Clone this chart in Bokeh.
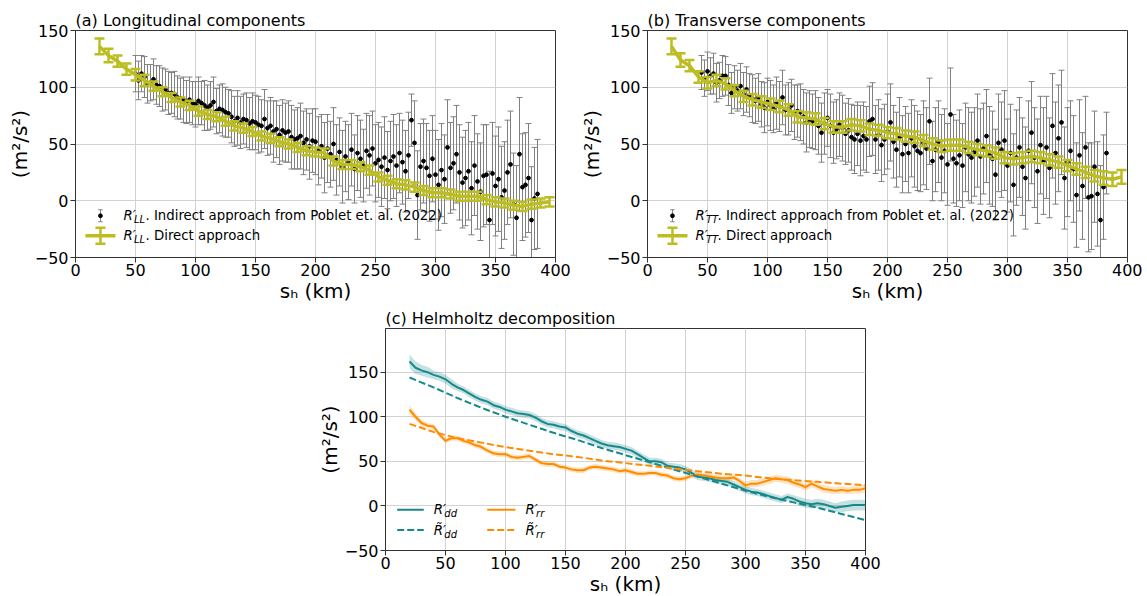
from bokeh.plotting import figure
from bokeh.models import (ColumnDataSource, Whisker, TeeHead, Label, Range1d,
                          FixedTicker, CustomJSTickFormatter, Spacer)
from bokeh.layouts import column, row
from bokeh.embed import file_html
from bokeh.resources import INLINE

# ---------------- data ----------------
# direct approach (olive), panels (a) and (b)
direct_x = [20 + 7.5 * k for k in range(51)]
direct_LL = [136, 128, 123, 116, 111, 106, 101, 96, 91, 87,
             84, 79, 76, 74, 70, 66, 64, 61, 57, 55,
             52, 50, 47, 44, 43, 42, 35, 32, 32, 30,
             27, 21, 18, 15, 14, 12, 9, 7, 7, 6,
             4, 4, 4, 1, -1, -2, -4, -5, -3, -2,
             -1]
direct_LL_err = [7, 6, 5, 5, 5, 5, 4, 4, 4, 4,
                 4, 4, 4, 4, 4, 4, 4, 4, 4, 4,
                 4, 4, 4, 4, 4, 4, 4, 4, 4, 4,
                 4, 4, 4, 4, 4, 4, 4, 4, 4, 4,
                 4, 4, 4, 4, 4, 4, 4, 4, 4, 4,
                 4]
direct_TT = [136, 124, 119, 109, 104, 106, 103, 97, 92, 89,
             87, 85, 83, 80, 74, 73, 72, 68, 65, 65,
             67, 66, 63, 62, 60, 59, 57, 56, 53, 50,
             48, 49, 49, 47, 45, 44, 42, 38, 37, 38,
             39, 38, 36, 34, 31, 28, 25, 22, 20, 19,
             21]
direct_TT_err = [7, 6, 5, 5, 5, 5, 5, 5, 5, 5,
                 5, 5, 5, 5, 5, 5, 5, 5, 5, 5,
                 5, 5, 5, 5, 5, 5, 5, 5, 5, 5,
                 5, 5, 5, 5, 5, 5, 5, 5, 5, 5,
                 5, 5, 5, 5, 5, 5, 5, 5, 6, 6,
                 6]

# indirect approach (black points with grey error bars)
indir_LL_x = [50 + 2.5 * k for k in range(135)]
indir_LL = [112, 106, 112, 109, 103, 104, 107, 102, 101, 98,
            98, 95, 95, 94, 91, 90, 89, 87, 89, 86,
            85, 88, 86, 84, 82, 84, 87, 79, 81, 80,
            78, 77, 74, 70, 73, 69, 72, 71, 68, 70,
            69, 67, 66, 72, 64, 66, 61, 63, 58, 62,
            60, 61, 56, 54, 55, 57, 51, 54, 48, 53,
            52, 44, 48, 38, 46, 41, 50, 36, 43, 30,
            39, 34, 45, 28, 42, 37, 31, 44, 40, 46,
            33, 36, 30, 38, 27, 35, 39, 31, 42, 34,
            26, 40, 71, 51, 5, 30, 35, 29, 22, 37,
            23, 14, 27, 19, 47, 29, 33, 41, 25, 16,
            20, 26, 11, 31, 17, 8, 22, 23, -17, 24,
            13, 19, 3, 9, 25, 32, -3, -15, 41, 12,
            14, 20, -17, 2, 6]
indir_LL_err = [16, 17, 16, 18, 17, 16, 18, 17, 18, 19,
                18, 19, 18, 20, 19, 18, 20, 19, 20, 19,
                20, 21, 19, 22, 20, 21, 22, 20, 21, 23,
                22, 21, 23, 22, 24, 23, 22, 24, 23, 25,
                24, 25, 23, 26, 24, 25, 27, 25, 26, 27,
                26, 27, 28, 26, 27, 29, 28, 27, 29, 28,
                29, 30, 28, 31, 30, 29, 32, 31, 30, 32,
                31, 33, 32, 30, 33, 34, 32, 33, 35, 33,
                34, 33, 35, 36, 34, 35, 37, 36, 35, 37,
                36, 38, 23, 37, 39, 38, 37, 39, 40, 38,
                39, 40, 41, 39, 42, 40, 41, 43, 42, 40,
                42, 43, 41, 44, 42, 43, 45, 44, 43, 45,
                44, 46, 45, 43, 46, 47, 45, 46, 50, 47,
                46, 48, 47, 45, 48]

indir_TT_x = [45 + 2.5 * k for k in range(136)]
indir_TT = [113, 108, 114, 110, 112, 104, 106, 110, 110, 102,
            95, 100, 97, 101, 94, 98, 93, 90, 88, 91,
            85, 82, 87, 84, 81, 86, 83, 91, 80, 81,
            84, 78, 79, 78, 74, 69, 72, 70, 71, 66,
            60, 68, 73, 66, 60, 63, 67, 64, 59, 62,
            56, 54, 59, 53, 57, 54, 70, 72, 54, 58,
            49, 54, 61, 69, 52, 45, 56, 41, 50, 42,
            55, 48, 44, 42, 51, 46, 70, 35, 45, 52,
            38, 44, 32, 76, 37, 33, 40, 31, 47, 41,
            38, 43, 53, 39, 46, 57, 40, 37, 23, 51,
            45, 53, 31, 42, 14, 38, 47, 30, 20, 44,
            60, 38, 26, 49, 35, 47, 29, 66, 42, 55,
            69, 20, 34, 44, 28, 5, 40, 13, 47, 3,
            4, 30, 6, -17, 12, 42]
indir_TT_err = [15, 16, 17, 16, 18, 17, 16, 18, 17, 18,
                18, 19, 18, 20, 19, 20, 19, 21, 20, 21,
                20, 22, 21, 22, 21, 23, 22, 24, 22, 23,
                23, 24, 23, 25, 24, 26, 25, 24, 26, 25,
                26, 27, 25, 28, 27, 26, 28, 29, 27, 28,
                29, 30, 28, 31, 30, 29, 31, 32, 30, 31,
                32, 31, 33, 34, 32, 33, 35, 34, 33, 35,
                34, 36, 35, 34, 37, 36, 38, 35, 37, 36,
                38, 37, 36, 41, 39, 38, 40, 37, 39, 41,
                40, 39, 41, 42, 40, 41, 43, 42, 40, 43,
                42, 44, 41, 43, 45, 42, 44, 43, 45, 44,
                45, 44, 46, 43, 47, 45, 44, 46, 45, 47,
                46, 45, 48, 44, 47, 46, 49, 47, 45, 48,
                47, 49, 46, 48, 46, 36]

# Helmholtz decomposition, panel (c)
helm_x = list(range(20, 401, 5))
R_dd = [162, 155, 152, 150, 147, 145, 142, 137, 133, 130,
        126, 122, 119, 117, 113, 111, 108, 106, 104, 103,
        102, 99, 95, 92, 91, 89, 88, 84, 81, 79,
        76, 73, 70, 68, 67, 66, 64, 62, 58, 54,
        50, 50, 49, 45, 44, 43, 41, 37, 33, 32,
        31, 29, 28, 27, 24, 21, 18, 16, 15, 13,
        11, 9, 7, 10, 8, 5, 3, 2, 3, 2,
        0, -2, -1, 0, 1, 1, 1]
R_dd_band = [8, 7, 6, 6, 5, 5, 5, 5, 4, 4,
             4, 4, 4, 4, 4, 4, 4, 4, 4, 4,
             4, 4, 4, 4, 4, 4, 4, 4, 4, 4,
             4, 4, 4, 4, 4, 4, 4, 4, 4, 4,
             4, 4, 4, 4, 4, 4, 4, 4, 4, 4,
             4, 4, 4, 4, 4, 4, 4, 4, 4, 4,
             4, 4, 4, 4, 4, 5, 5, 5, 5, 5,
             5, 5, 6, 6, 6, 6, 6]
R_rr = [108, 100, 93, 90, 89, 80, 73, 76, 76, 73,
        71, 68, 66, 62, 59, 58, 58, 55, 54, 55,
        56, 52, 48, 47, 47, 44, 43, 41, 40, 40,
        43, 44, 43, 42, 41, 39, 40, 38, 36, 36,
        37, 37, 35, 34, 31, 30, 31, 34, 35, 34,
        33, 32, 31, 31, 32, 28, 23, 25, 25, 27,
        29, 31, 30, 29, 26, 24, 21, 25, 22, 19,
        18, 17, 18, 17, 18, 18, 20]
R_rr_band = [5, 4, 4, 3, 3, 3, 3, 3, 3, 3,
             3, 3, 3, 3, 3, 3, 3, 3, 3, 3,
             3, 3, 3, 3, 3, 3, 3, 3, 3, 3,
             3, 3, 3, 3, 3, 3, 3, 3, 3, 3,
             3, 3, 3, 3, 3, 3, 3, 3, 3, 3,
             3, 3, 3, 3, 3, 3, 4, 4, 4, 4,
             4, 4, 4, 4, 4, 4, 4, 4, 4, 4,
             4, 4, 4, 4, 4, 4, 5]
fit_x = list(range(20, 401, 20))
R_dd_fit = [144, 133, 121, 110, 100, 91, 82, 74, 65, 57,
            49, 41, 33, 25, 17, 10, 4, -2, -9, -16]
R_rr_fit = [92, 83, 76, 71, 66, 62, 58, 55, 51, 48,
            45, 42, 39, 36, 34, 31, 29, 27, 25, 23]

x_ticks = [0, 50, 100, 150, 200, 250, 300, 350, 400]
y_ticks = [-50, 0, 50, 100, 150]

# ---------------- styling ----------------
FONT = "DejaVu Sans"
OLIVE = "#bcbd22"
TEAL = "#17898b"
ORANGE = "#ff8c00"
GREY = "#808080"
AXIS = "#333333"
GRID = "#d2d2d2"

fmt = CustomJSTickFormatter(code="return tick < 0 ? '\u2212' + Math.abs(tick) : String(tick);")


def make_fig(title, left, right, top, bottom, fh, y_end):
    p = figure(title=title, frame_width=480, frame_height=fh,
               min_border_left=left, min_border_right=right,
               min_border_top=top, min_border_bottom=bottom,
               x_range=Range1d(0, 400), y_range=Range1d(-50, y_end),
               output_backend="svg", toolbar_location=None,
               background_fill_color="white", border_fill_color="white")
    p.title.align = "left"
    p.title.text_font = FONT
    p.title.text_font_size = "16px"
    p.title.text_font_style = "normal"
    p.title.text_color = "black"
    p.title.standoff = 2
    p.title.offset = 0
    p.outline_line_color = AXIS
    p.outline_line_width = 1
    p.xaxis.ticker = FixedTicker(ticks=x_ticks)
    p.yaxis.ticker = FixedTicker(ticks=y_ticks)
    p.xgrid.ticker = FixedTicker(ticks=x_ticks)
    p.ygrid.ticker = FixedTicker(ticks=y_ticks)
    p.grid.grid_line_color = GRID
    p.grid.grid_line_width = 1
    for ax in (p.xaxis[0], p.yaxis[0]):
        ax.formatter = fmt
        ax.axis_line_color = AXIS
        ax.major_tick_line_color = AXIS
        ax.major_tick_out = 5
        ax.major_tick_in = 0
        ax.minor_tick_line_color = None
        ax.major_label_text_font = FONT
        ax.major_label_text_font_size = "16px"
        ax.major_label_text_color = "black"
        ax.major_label_standoff = 2
        ax.axis_label_text_font = FONT
        ax.axis_label_text_font_size = "20px"
        ax.axis_label_text_font_style = "normal"
        ax.axis_label_text_color = "black"
        ax.axis_label_standoff = 0
    p.yaxis.axis_label = "(m\u00b2/s\u00b2)"
    p.xaxis.axis_label = "s\u2095 (km)"
    p.xaxis.major_label_standoff = 1
    return p


def lab(p, x, y, text, size, style="normal", xo=0, yo=0, align="left"):
    p.add_layout(Label(x=x, y=y, text=text, x_offset=xo, y_offset=yo,
                       text_font=FONT, text_font_size=f"{size}px",
                       text_font_style=style, text_align=align,
                       text_baseline="middle", text_color="black"))


def errorbar_panel(p, ix, iy, ierr, dx, dy, derr, sub):
    src = ColumnDataSource(dict(x=ix, y=iy,
                                lo=[a - b for a, b in zip(iy, ierr)],
                                hi=[a + b for a, b in zip(iy, ierr)]))
    w = Whisker(source=src, base="x", lower="lo", upper="hi",
                line_color=GREY, line_width=1,
                upper_head=TeeHead(size=6, line_color=GREY, line_width=1),
                lower_head=TeeHead(size=6, line_color=GREY, line_width=1),
                level="underlay")
    p.add_layout(w)
    p.scatter("x", "y", source=src, size=3.8, color="black")
    dsrc = ColumnDataSource(dict(x=dx, y=dy,
                                 lo=[a - b for a, b in zip(dy, derr)],
                                 hi=[a + b for a, b in zip(dy, derr)]))
    p.line("x", "y", source=dsrc, line_color=OLIVE, line_width=3.5)
    wd = Whisker(source=dsrc, base="x", lower="lo", upper="hi",
                 line_color=OLIVE, line_width=2.5,
                 upper_head=TeeHead(size=10, line_color=OLIVE, line_width=2.5),
                 lower_head=TeeHead(size=10, line_color=OLIVE, line_width=2.5),
                 level="glyph")
    p.add_layout(wd)
    # legend
    r1, r2 = -13.2, -30.8
    p.segment(x0=[20.8], y0=[r1 - 5.3], x1=[20.8], y1=[r1 + 5.3], line_color=GREY, line_width=1)
    p.segment(x0=[19.0, 19.0], y0=[r1 - 5.3, r1 + 5.3], x1=[22.6, 22.6], y1=[r1 - 5.3, r1 + 5.3],
              line_color=GREY, line_width=1)
    p.scatter(x=[20.8], y=[r1], size=3.8, color="black")
    p.segment(x0=[8.3], y0=[r2], x1=[33.3], y1=[r2], line_color=OLIVE, line_width=3.5)
    p.segment(x0=[20.8], y0=[r2 - 7], x1=[20.8], y1=[r2 + 7], line_color=OLIVE, line_width=2.5)
    p.segment(x0=[16.6, 16.6], y0=[r2 - 7, r2 + 7], x1=[25.0, 25.0], y1=[r2 - 7, r2 + 7],
              line_color=OLIVE, line_width=2.5)
    for r, rest in ((r1, ". Indirect approach from Poblet et. al. (2022)"),
                    (r2, ". Direct approach")):
        lab(p, 40, r, "R\u2032", 13.3, "italic")
        lab(p, 40, r, sub, 10, "italic", xo=10.5, yo=-4)
        lab(p, 40, r, rest, 13.3, xo=22)


# panel (a)
pa = make_fig("(a) Longitudinal components", 75, 19, 30, 48, 227, 150)
errorbar_panel(pa, indir_LL_x, indir_LL, indir_LL_err, direct_x, direct_LL, direct_LL_err, "LL")

# panel (b)
pb = make_fig("(b) Transverse components", 73, 15, 30, 48, 227, 150)
errorbar_panel(pb, indir_TT_x, indir_TT, indir_TT_err, direct_x, direct_TT, direct_TT_err, "TT")

# panel (c)
pc = make_fig("(c) Helmholtz decomposition", 75, 20, 22, 46, 222, 199)
pc.varea(x=helm_x, y1=[a - b for a, b in zip(R_dd, R_dd_band)],
         y2=[a + b for a, b in zip(R_dd, R_dd_band)], fill_color=TEAL, fill_alpha=0.25)
pc.varea(x=helm_x, y1=[a - b for a, b in zip(R_rr, R_rr_band)],
         y2=[a + b for a, b in zip(R_rr, R_rr_band)], fill_color=ORANGE, fill_alpha=0.25)
pc.line(helm_x, R_dd, line_color=TEAL, line_width=2)
pc.line(helm_x, R_rr, line_color=ORANGE, line_width=2)
pc.line(fit_x, R_dd_fit, line_color=TEAL, line_width=2, line_dash="7 3")
pc.line(fit_x, R_rr_fit, line_color=ORANGE, line_width=2, line_dash="7 3")
c1, c2 = -4.3, -27.1
pc.segment(x0=[9.75], y0=[c1], x1=[31.9], y1=[c1], line_color=TEAL, line_width=2)
pc.segment(x0=[9.75], y0=[c2], x1=[31.9], y1=[c2], line_color=TEAL, line_width=2, line_dash="7 3")
pc.segment(x0=[84.75], y0=[c1], x1=[108.3], y1=[c1], line_color=ORANGE, line_width=2)
pc.segment(x0=[84.75], y0=[c2], x1=[108.3], y1=[c2], line_color=ORANGE, line_width=2, line_dash="7 3")
for xt, sub in ((40.3, "dd"), (116.7, "rr")):
    lab(pc, xt, c1, "R\u2032", 13.3, "italic")
    lab(pc, xt, c1, sub, 10, "italic", xo=10.5, yo=-4)
    lab(pc, xt, c2, "R\u0303\u2032", 13.3, "italic")
    lab(pc, xt, c2, sub, 10, "italic", xo=10.5, yo=-4)

layout = column(row(pa, pb), row(Spacer(width=310, height=10), pc))
open("out.html", "w").write(file_html(layout, INLINE))
